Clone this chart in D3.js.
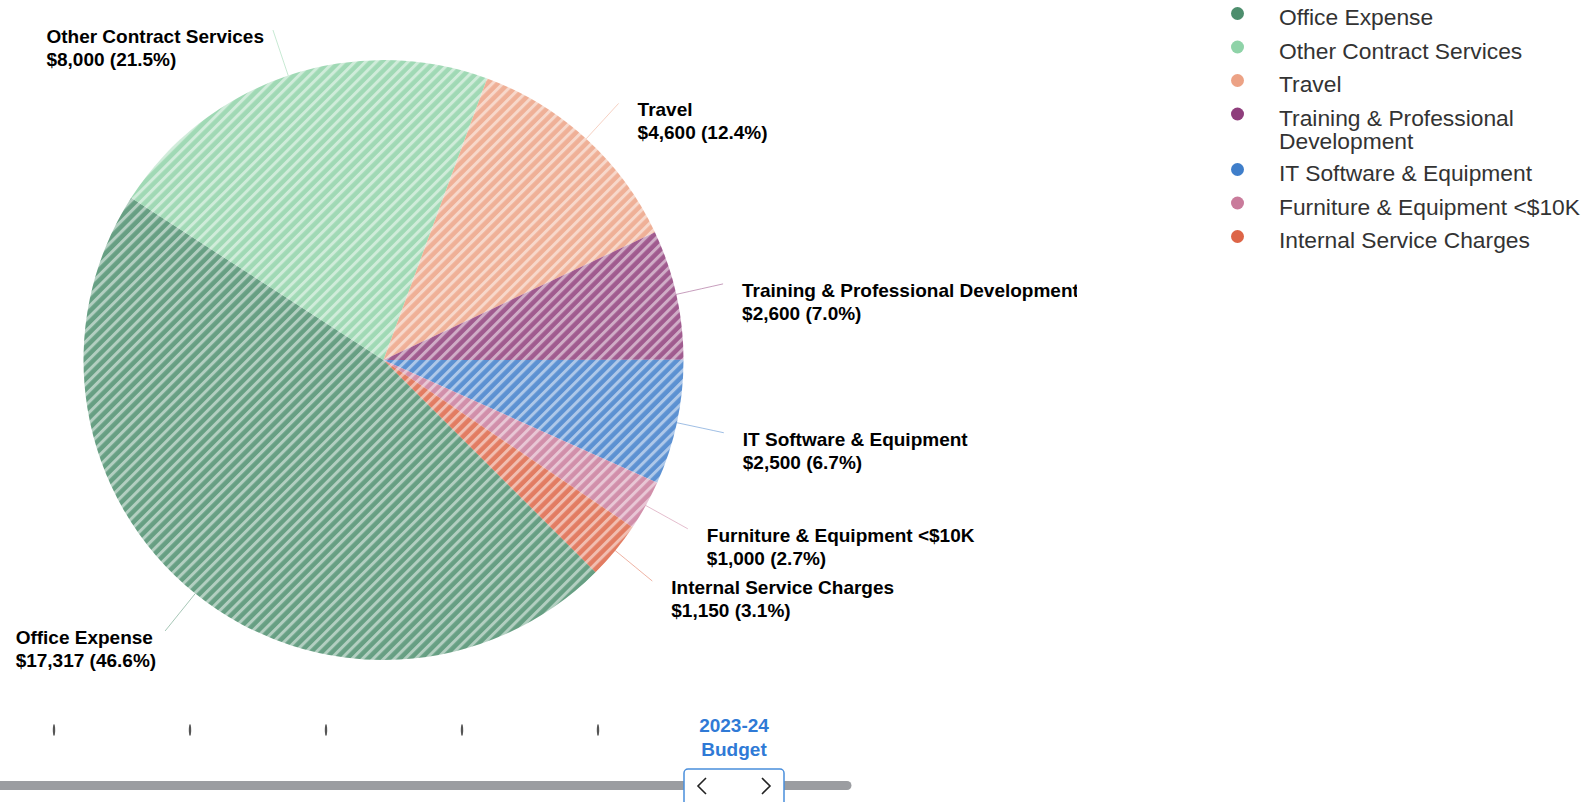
<!DOCTYPE html>
<html>
<head>
<meta charset="utf-8">
<script src="https://cdn.jsdelivr.net/npm/d3@7"></script>
<style>
  body { margin: 0; background: #fff; }
  svg { display: block; font-family: "Liberation Sans", Arial, sans-serif; }
</style>
</head>
<body>
<div id="chart"></div>
<script>
// categories and values (2023-24 Budget)
var categories = ["Office Expense", "Other Contract Services", "Travel",
    "Training & Professional Development", "IT Software & Equipment",
    "Furniture & Equipment <$10K", "Internal Service Charges"];
var amounts = [17317, 8000, 4600, 2600, 2500, 1000, 1150];
var colors = ["#4d8e6d", "#8fd3a8", "#eca285", "#8f3e7c", "#3f7eca", "#c97b9b", "#dd6547"];

// slider periods (only the selected one is labelled)
var periods = ["2018-19", "2019-20", "2020-21", "2021-22", "2022-23", "2023-24 Budget"];
var selectedPeriod = "2023-24 Budget";

var w = 1593;
var h = 802;
var cx = 383.5, cy = 360, radius = 300;

var svg = d3.select("#chart")
    .append("svg")
    .attr("width", w)
    .attr("height", h);

var defs = svg.append("defs");

// striped fill for each slice
colors.forEach(function(c, i) {
    var p = defs.append("pattern")
        .attr("id", "stripe" + i)
        .attr("patternUnits", "userSpaceOnUse")
        .attr("width", 7.5)
        .attr("height", 7.5)
        .attr("patternTransform", "rotate(45)");
    p.append("rect").attr("width", 7.5).attr("height", 7.5)
        .attr("fill", c).attr("fill-opacity", 0.85);
    p.append("rect").attr("x", 0).attr("width", 3).attr("height", 7.5)
        .attr("fill", "#fff").attr("fill-opacity", 0.5);
});

defs.append("clipPath").attr("id", "plotClip")
    .append("rect").attr("x", 0).attr("y", 0).attr("width", 1077).attr("height", 700);

var total = d3.sum(amounts);
var data = categories.map(function(name, i) {
    return { name: name, value: amounts[i], color: colors[i], idx: i };
});

var pie = d3.pie()
    .sort(null)
    .value(function(d) { return d.value; })
    .startAngle(Math.PI * 3 / 4)
    .endAngle(Math.PI * 3 / 4 + Math.PI * 2);

var arc = d3.arc().innerRadius(0).outerRadius(radius);

var plot = svg.append("g").attr("clip-path", "url(#plotClip)");
var g = plot.append("g").attr("transform", "translate(" + cx + "," + cy + ")");

var arcs = pie(data);

g.selectAll("path.slice")
    .data(arcs)
    .enter()
    .append("path")
    .attr("class", "slice")
    .attr("d", arc)
    .attr("fill", function(d) { return "url(#stripe" + d.data.idx + ")"; });

var fmt = d3.format(",");
var pct = d3.format(".1f");

function polar(a, r) {
    return [r * Math.sin(a), -r * Math.cos(a)];
}

// data labels with connectors
arcs.forEach(function(d) {
    var a = (d.startAngle + d.endAngle) / 2;
    var p0 = polar(a, radius);
    var p1 = polar(a, radius + 28);
    var p2 = polar(a, radius + 48);
    var right = Math.sin(a) > 0;

    g.append("path")
        .attr("d", "M" + p0 + "Q" + p1 + " " + p2)
        .attr("fill", "none")
        .attr("stroke", d.data.color)
        .attr("stroke-opacity", 0.5)
        .attr("stroke-width", 1);

    var t = g.append("text")
        .attr("font-size", 19)
        .attr("font-weight", "bold")
        .attr("fill", "#000");
    var l1 = t.append("tspan").text(d.data.name);
    var l2 = t.append("tspan").text("$" + fmt(d.data.value) + " (" + pct(d.data.value / total * 100) + "%)");

    var tw = Math.max(l1.node().getComputedTextLength(), l2.node().getComputedTextLength());
    var x = right ? p2[0] + 19 : p2[0] - 9 - tw;
    l1.attr("x", x).attr("y", p2[1] + 13);
    l2.attr("x", x).attr("y", p2[1] + 36);
});

// legend
var legend = svg.append("g").attr("font-size", 22.8).attr("fill", "#333");
var ly = 17.5;
var lineGap = 23;
data.forEach(function(d) {
    var row = legend.append("g");
    row.append("circle")
        .attr("cx", 1237.5)
        .attr("cy", ly - 4)
        .attr("r", 6.5)
        .attr("fill", d.color);
    var text = row.append("text").attr("x", 1279);
    // wrap long names
    var words = d.name.split(" ");
    var line = [];
    var lineNo = 0;
    var ts = text.append("tspan").attr("x", 1279).attr("y", ly).attr("dy", "0.35em");
    words.forEach(function(wd) {
        line.push(wd);
        ts.text(line.join(" "));
        if (ts.node().getComputedTextLength() > 312 && line.length > 1) {
            line.pop();
            ts.text(line.join(" "));
            line = [wd];
            lineNo++;
            ts = text.append("tspan").attr("x", 1279)
                .attr("y", ly + lineNo * lineGap).attr("dy", "0.35em").text(wd);
        }
    });
    ly += 33.5 + lineNo * 22;
});

// time slider
var sx = d3.scalePoint().domain(periods).range([54, 734]);

svg.append("path")
    .attr("d", "M0,781H847a4.5,4.5 0 0 1 0,9H0Z")
    .attr("fill", "#9b9da1");

svg.selectAll("ellipse.tick")
    .data(periods.filter(function(p) { return p !== selectedPeriod; }))
    .enter()
    .append("ellipse")
    .attr("class", "tick")
    .attr("cx", function(d) { return sx(d); })
    .attr("cy", 730)
    .attr("rx", 1.2)
    .attr("ry", 6)
    .attr("fill", "#555");

var hx = sx(selectedPeriod);
var handle = svg.append("g").attr("transform", "translate(" + hx + ",0)");
handle.append("rect")
    .attr("x", -50)
    .attr("y", 769)
    .attr("width", 100)
    .attr("height", 50)
    .attr("rx", 4)
    .attr("fill", "#fff")
    .attr("stroke", "#4a8fdc")
    .attr("stroke-width", 1.5);
handle.append("path")
    .attr("d", "M-28,778L-36,786L-28,794")
    .attr("fill", "none").attr("stroke", "#222").attr("stroke-width", 1.6);
handle.append("path")
    .attr("d", "M28,778L36,786L28,794")
    .attr("fill", "none").attr("stroke", "#222").attr("stroke-width", 1.6);

var hl = handle.append("text")
    .attr("text-anchor", "middle")
    .attr("font-size", 19)
    .attr("font-weight", "bold")
    .attr("fill", "#2f7ad6");
selectedPeriod.split(" ").forEach(function(part, i) {
    hl.append("tspan").attr("x", 0).attr("y", 725 + i * 24).attr("dy", "0.35em").text(part);
});
</script>
</body>
</html>
